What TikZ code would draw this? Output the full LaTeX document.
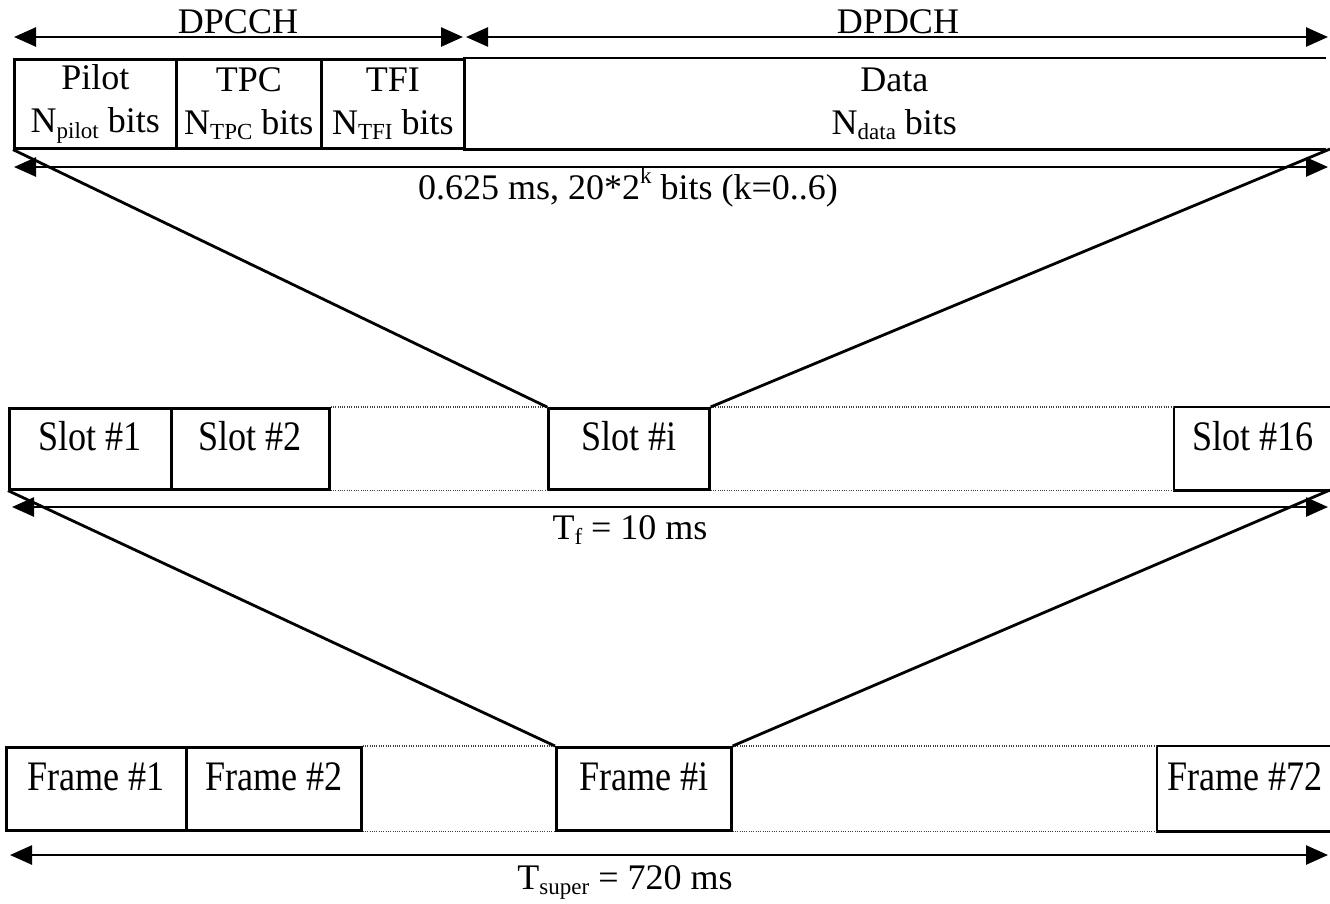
\documentclass[tikz,border=0pt]{standalone}
\usepackage{fontspec}
\setmainfont{Liberation Serif}
\newfontfamily\condfont{Liberation Serif}[FakeStretch=0.86]
\usetikzlibrary{arrows.meta}
\newcommand\lowsub[1]{\raisebox{-0.15em}{\fontsize{23}{23}\selectfont #1}}
\newcommand\highsup[1]{\raisebox{0.42em}{\fontsize{23}{23}\selectfont #1}}
\tikzset{bigtip/.tip={Triangle[length=22pt,width=19pt]}}
\begin{document}
\begin{tikzpicture}[x=1pt,y=-1pt,
  txt/.style={font=\fontsize{36}{43}\selectfont},
  cell/.style={font=\condfont\fontsize{42}{48}\selectfont, draw, line width=2.6pt, inner sep=0pt,
               anchor=north west, align=center, text height=0.66em, text depth=0.24em},
  opencell/.style={cell, draw=none},
  topcell/.style={txt, draw, line width=2.6pt, inner sep=0pt, anchor=north west, align=center},
  edge/.style={line width=2.6pt},
  link/.style={line width=2.8pt},
  dots/.style={line width=1.3pt, draw=black!75, dash pattern=on 1pt off 1.3pt},
  dim/.style={line width=2.6pt, arrows={bigtip-bigtip}},
  lab/.style={txt, inner sep=0pt, anchor=base}
]
\useasboundingbox (0,0) rectangle (1330,903);

% ---------- top row ----------
\coordinate (c1l) at (14,37);   \coordinate (c1r) at (463,37);
\coordinate (d1l) at (466,37);  \coordinate (d1r) at (1328,37);
\draw[dim] (c1l) -- (c1r);
\draw[dim] (d1l) -- (d1r);
\node[lab] (dpcch) at (238,33) {DPCCH};
\node[lab] (dpdch) at (898,33) {DPDCH};

\node[topcell, minimum width=162pt, minimum height=89pt] (pilot) at (13,58) {Pilot\\N\lowsub{pilot} bits};
\node[topcell, minimum width=145pt, minimum height=89pt] (tpc) at (175,58) {TPC\\N\lowsub{TPC} bits};
\node[topcell, minimum width=143pt, minimum height=89pt] (tfi) at (320,58) {TFI\\N\lowsub{TFI} bits};
\node[topcell, draw=none, minimum width=860pt, minimum height=89pt] (data) at (463,58) {Data\\N\lowsub{data} bits};
\draw[edge] (data.north west) -- (data.north east);
\draw[edge] (data.south west) -- (data.south east);

\coordinate (s1l) at (14,167); \coordinate (s1r) at (1328,167);
\draw[dim] (s1l) -- (s1r);
\node[lab] (slotlen) at (628,199) {0.625 ms, 20*2\highsup{k} bits (k=0..6)};

% ---------- slot row ----------
\node[cell, minimum width=162pt, minimum height=81pt] (sl1) at (8,407) {Slot \#1};
\node[cell, minimum width=158pt, minimum height=81pt] (sl2) at (170,407) {Slot \#2};
\node[cell, minimum width=161pt, minimum height=81pt] (sli) at (547,407) {Slot \#i};
\node[opencell, minimum width=156pt, minimum height=81pt] (sl16) at (1174,407) {Slot \#16};
\draw[edge] (sl16.north east) -- (sl16.north west) -- (sl16.south west) -- (sl16.south east);
\draw[dots] (sl2.north east) -- (sli.north west);
\draw[dots] (sl2.south east) -- (sli.south west);
\draw[dots] (sli.north east) -- (sl16.north west);
\draw[dots] (sli.south east) -- (sl16.south west);

\coordinate (tr1) at (1330,149);
\draw[link] (pilot.south west) -- (sli.north west);
\draw[link] (tr1) -- (sli.north east);

\coordinate (f1l) at (12,507); \coordinate (f1r) at (1328,507);
\draw[dim] (f1l) -- (f1r);
\node[lab] (framelen) at (630,539) {T\lowsub{f} = 10 ms};

% ---------- frame row ----------
\node[cell, minimum width=180pt, minimum height=83pt] (fr1) at (5,746) {Frame \#1};
\node[cell, minimum width=175pt, minimum height=83pt] (fr2) at (185,746) {Frame \#2};
\node[cell, minimum width=175pt, minimum height=83pt] (fri) at (555,746) {Frame \#i};
\node[opencell, minimum width=173pt, minimum height=83pt] (fr72) at (1157,746) {Frame \#72};
\draw[edge] (fr72.north east) -- (fr72.north west) -- (fr72.south west) -- (fr72.south east);
\draw[dots] (fr2.north east) -- (fri.north west);
\draw[dots] (fr2.south east) -- (fri.south west);
\draw[dots] (fri.north east) -- (fr72.north west);
\draw[dots] (fri.south east) -- (fr72.south west);

\coordinate (tr2) at (1330,490);
\draw[link] (sl1.south west) -- (fri.north west);
\draw[link] (tr2) -- (fri.north east);

\coordinate (g1l) at (10,855); \coordinate (g1r) at (1328,855);
\draw[dim] (g1l) -- (g1r);
\node[lab] (superlen) at (625,889) {T\lowsub{super} = 720 ms};
\end{tikzpicture}
\end{document}
